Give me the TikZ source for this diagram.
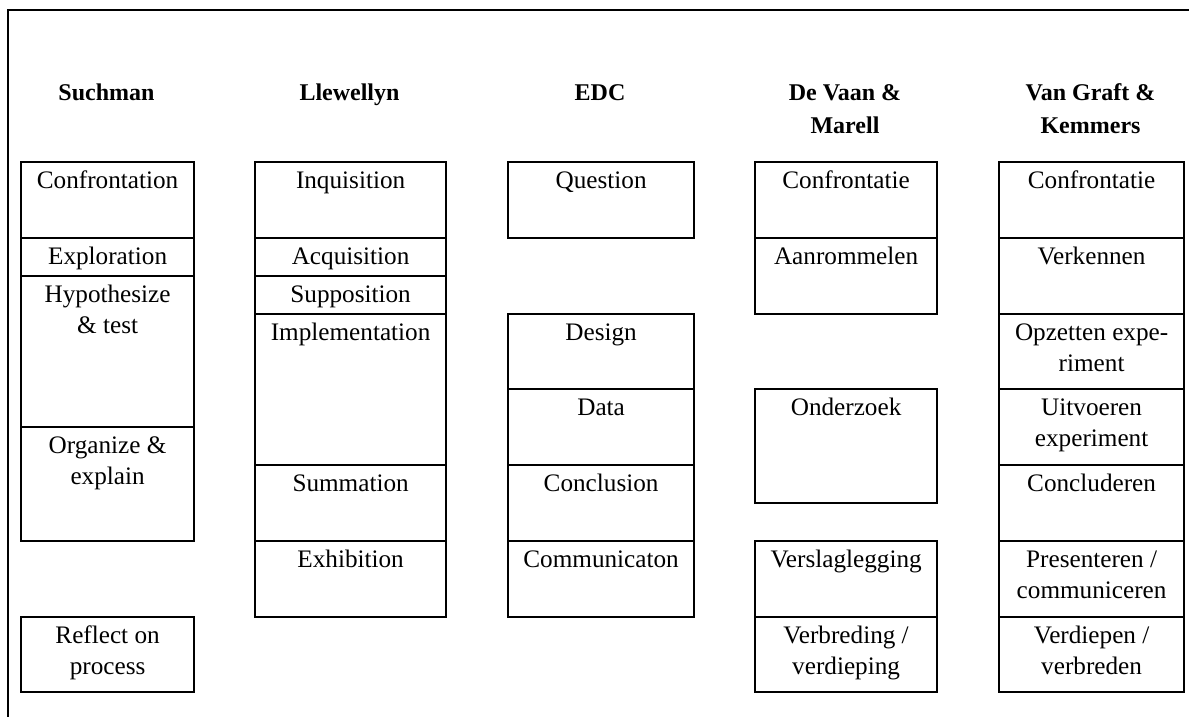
\documentclass[tikz,border=0pt]{standalone}
\usepackage{fontspec}
\setmainfont{Liberation Serif}
\usetikzlibrary{calc}
\tikzset{stage/.style={draw, line width=1.1pt, inner sep=0pt, anchor=north west}}
\tikzset{txt/.style={anchor=north, inner sep=0pt, align=center, font=\fontsize{12.6}{15.5}\selectfont}}
\tikzset{hd/.style={anchor=north, inner sep=0pt, align=center, font=\fontsize{12}{16.5}\selectfont\bfseries}}

% box: name, x, top y, width, height, text
\newcommand{\stagebox}[6]{%
  \node[stage, minimum width=#4*0.5pt, minimum height=#5*0.5pt] (#1) at (#2,#3) {};
  \node[txt, yshift=-2.65pt] (#1t) at (#1.north) {\strut #6};
}

\begin{document}
\begin{tikzpicture}[x=0.5pt, y=-0.5pt]
      \useasboundingbox (0,0) rectangle (1189,717);
      \draw[line width=1.2pt] (8,720) -- (8,10) -- (1192,10);

      \node[hd] (hsuch) at (106.5,77) {\strut Suchman};
      \node[hd] (hllew) at (349.5,77) {\strut Llewellyn};
      \node[hd] (hedc) at (600,77) {\strut EDC};
      \node[hd] (hvaan) at (845,77) {\strut De Vaan \&\\Marell};
      \node[hd] (hgraft) at (1090.5,77) {\strut Van Graft \&\\Kemmers};

      \stagebox{such1}{20}{161}{173}{76}{Confrontation}
      \stagebox{such2}{20}{237}{173}{38}{Exploration}
      \stagebox{such3}{20}{275}{173}{151}{Hypothesize\\\& test}
      \stagebox{such4}{20}{426}{173}{114}{Organize \&\\explain}
      \stagebox{such5}{20}{616}{173}{75}{Reflect on\\process}

      \stagebox{llew1}{254}{161}{191}{76}{Inquisition}
      \stagebox{llew2}{254}{237}{191}{38}{Acquisition}
      \stagebox{llew3}{254}{275}{191}{38}{Supposition}
      \stagebox{llew4}{254}{313}{191}{151}{Implementation}
      \stagebox{llew5}{254}{464}{191}{76}{Summation}
      \stagebox{llew6}{254}{540}{191}{76}{Exhibition}

      \stagebox{edc1}{507}{161}{186}{76}{Question}
      \stagebox{edc2}{507}{313}{186}{75}{Design}
      \stagebox{edc3}{507}{388}{186}{76}{Data}
      \stagebox{edc4}{507}{464}{186}{76}{Conclusion}
      \stagebox{edc5}{507}{540}{186}{76}{Communicaton}

      \stagebox{vaan1}{754}{161}{182}{76}{Confrontatie}
      \stagebox{vaan2}{754}{237}{182}{76}{Aanrommelen}
      \stagebox{vaan3}{754}{388}{182}{114}{Onderzoek}
      \stagebox{vaan4}{754}{540}{182}{76}{Verslaglegging}
      \stagebox{vaan5}{754}{616}{182}{75}{Verbreding /\\verdieping}

      \stagebox{graft1}{998}{161}{185}{76}{Confrontatie}
      \stagebox{graft2}{998}{237}{185}{76}{Verkennen}
      \stagebox{graft3}{998}{313}{185}{75}{Opzetten expe-\\riment}
      \stagebox{graft4}{998}{388}{185}{76}{Uitvoeren\\experiment}
      \stagebox{graft5}{998}{464}{185}{76}{Concluderen}
      \stagebox{graft6}{998}{540}{185}{76}{Presenteren /\\communiceren}
      \stagebox{graft7}{998}{616}{185}{75}{Verdiepen /\\verbreden}
\end{tikzpicture}
\end{document}
